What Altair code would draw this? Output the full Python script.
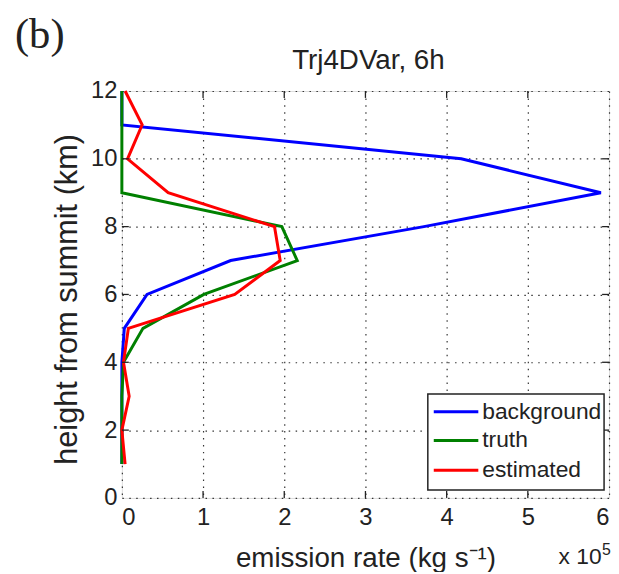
import altair as alt
import pandas as pd

heights = [1, 2, 3, 4, 5, 6, 7, 8, 9, 10, 11, 12]
background = [0, 0, 0, 0, 0.03, 0.31, 1.34, 3.72, 5.90, 4.18, 0, 0]
truth = [0, 0, 0, 0.02, 0.26, 1.01, 2.16, 1.97, 0, 0, 0, 0]
estimated = [0.04, 0.0, 0.09, 0.02, 0.08, 1.39, 1.95, 1.88, 0.57, 0.07, 0.25, 0.04]

series_names = ["background", "truth", "estimated"]
series_colors = ["#0000ff", "#008000", "#ff0000"]
x_ticks = [0, 1, 2, 3, 4, 5, 6]
y_ticks = [0, 2, 4, 6, 8, 10, 12]

W, H = 492, 411
FONT = "Liberation Sans"

rows = []
for name, vals in zip(series_names, [background, truth, estimated]):
    for i, (h, v) in enumerate(zip(heights, vals)):
        rows.append({"series": name, "height": h, "rate": v, "idx": i})
df = pd.DataFrame(rows)

xscale = alt.Scale(domain=[0, 6], nice=False, zero=False)
yscale = alt.Scale(domain=[0, 12], nice=False, zero=False)
grid_dash = [1.5, 5.5]

lines = alt.Chart(df).mark_line(strokeWidth=3, clip=False).encode(
    x=alt.X("rate:Q", scale=xscale,
            axis=alt.Axis(values=x_ticks, format="d", title="emission rate (kg s⁻¹)",
                          titleX=246, titleY=69, titleBaseline="alphabetic",
                          titleFontSize=28, titleFontWeight="normal", titleFont=FONT,
                          titleColor="#222",
                          labelFontSize=24, labelFont=FONT, labelPadding=8, labelColor="#222",
                          domain=False, ticks=False, grid=True, gridColor="#333",
                          gridDash=grid_dash, gridWidth=1.2, gridOpacity=1)),
    y=alt.Y("height:Q", scale=yscale,
            axis=alt.Axis(values=y_ticks, format="d", title="height from summit (km)",
                          titleX=-55, titleY=210, titleAngle=-90, titleBaseline="middle",
                          titleFontSize=31, titleFontWeight="normal", titleFont=FONT,
                          titleColor="#222",
                          labelFontSize=24, labelFont=FONT, labelPadding=5, labelColor="#222",
                          domain=False, ticks=False, grid=True, gridColor="#333",
                          gridDash=grid_dash, gridWidth=1.2, gridOpacity=1)),
    color=alt.Color("series:N", scale=alt.Scale(domain=series_names, range=series_colors), legend=None),
    order=alt.Order("idx:Q"),
    detail="series:N",
)

# inward tick marks on all four sides
xt = pd.DataFrame({"v": x_ticks[1:-1]})
yt = pd.DataFrame({"v": y_ticks[1:-1]})
tk = dict(color="#222", strokeWidth=1.3)
xb = alt.Chart(xt).mark_rule(**tk).encode(x=alt.X("v:Q", scale=xscale), y=alt.value(H), y2=alt.value(H - 7))
xtop = alt.Chart(xt).mark_rule(**tk).encode(x=alt.X("v:Q", scale=xscale), y=alt.value(0), y2=alt.value(7))
yl = alt.Chart(yt).mark_rule(**tk).encode(y=alt.Y("v:Q", scale=yscale), x=alt.value(0), x2=alt.value(7))
yr = alt.Chart(yt).mark_rule(**tk).encode(y=alt.Y("v:Q", scale=yscale), x=alt.value(W), x2=alt.value(W - 7))

# legend box
leg_df = pd.DataFrame({"series": series_names, "ypix": [324, 353, 383]})
leg_box = alt.Chart(pd.DataFrame({"a": [0]})).mark_rect(
    fill="white", stroke="#222", strokeWidth=1.5).encode(
    x=alt.value(309), x2=alt.value(487), y=alt.value(306), y2=alt.value(403))
leg_lines = alt.Chart(leg_df).mark_rule(strokeWidth=3).encode(
    x=alt.value(315), x2=alt.value(360), y=alt.Y("ypix:Q", scale=None),
    color=alt.Color("series:N", scale=alt.Scale(domain=series_names, range=series_colors), legend=None))
leg_text = alt.Chart(leg_df).mark_text(
    align="left", baseline="middle", fontSize=23, font=FONT, color="#222").encode(
    x=alt.value(364), y=alt.Y("ypix:Q", scale=None), text="series:N")

# title, exponent label and panel letter
title = alt.Chart(pd.DataFrame({"t": ["Trj4DVar, 6h"]})).mark_text(
    align="center", baseline="alphabetic", fontSize=28, font=FONT, color="#222").encode(
    x=alt.value(249), y=alt.value(-22), text="t:N")
mult = alt.Chart(pd.DataFrame({"t": ["x 10"]})).mark_text(
    align="left", baseline="alphabetic", fontSize=23, font=FONT, color="#222").encode(
    x=alt.value(441), y=alt.value(478), text="t:N")
expo = alt.Chart(pd.DataFrame({"t": ["5"]})).mark_text(
    align="left", baseline="alphabetic", fontSize=16, font=FONT, color="#222").encode(
    x=alt.value(485), y=alt.value(469), text="t:N")
panel = alt.Chart(pd.DataFrame({"t": ["(b)"]})).mark_text(
    align="left", baseline="alphabetic", fontSize=43, font="Liberation Serif", color="#222").encode(
    x=alt.value(-108), y=alt.value(-43), text="t:N")

chart = alt.layer(
    lines, xb, xtop, yl, yr, leg_box, leg_lines, leg_text, title, mult, expo, panel
).properties(
    width=W, height=H,
    autosize=alt.AutoSizeParams(type="none"),
    padding={"left": 115, "top": 81, "right": 2, "bottom": 72},
).configure_view(
    stroke="#222", strokeWidth=1.5
).configure(background="white")

chart.save("out.html", embed_options={"renderer": "svg", "actions": False})
